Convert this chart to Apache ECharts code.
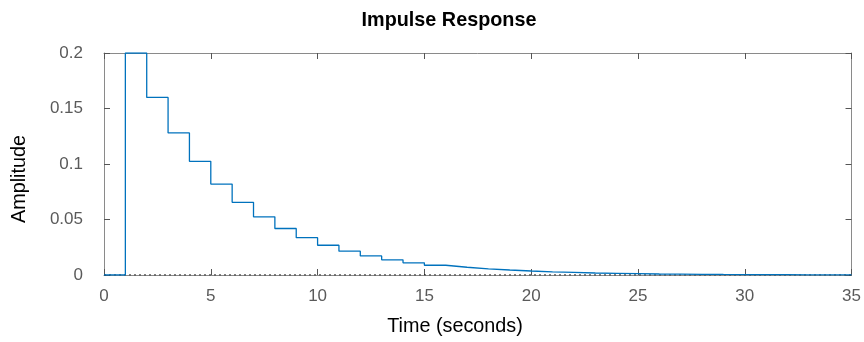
<!DOCTYPE html>
<html>
<head>
<meta charset="utf-8">
<script src="https://cdn.jsdelivr.net/npm/echarts@6/dist/echarts.min.js"></script>
<style>
html,body{margin:0;padding:0;background:#fff;}
#chart{width:864px;height:342px;}
</style>
</head>
<body>
<div id="chart"></div>
<script>
// Data
var times = [0,1,2,3,4,5,6,7,8,9,10,11,12,13,14,15,16,17,18,19,20,21,22,23,24,25,26,27,28,29,30,31,32,33,34,35];
var amplitude = [0,0.2,0.16,0.128,0.1024,0.0819,0.0655,0.0524,0.0419,0.0336,0.0268,0.0215,0.0172,0.0137,0.0110,0.0088,0.0070,0.0056,0.0045,0.0036,0.0029,0.0023,0.0018,0.0015,0.0012,0.0009,0.00076,0.0006,0.00048,0.00039,0.00031,0.00025,0.0002,0.00016,0.00013,0.0001];
var xTicks = [0,5,10,15,20,25,30,35];
var yTicks = [0,0.05,0.1,0.15,0.2];
var titleText = 'Impulse Response';
var xLabelText = 'Time (seconds)';
var yLabelText = 'Amplitude';

var FONT = '"Liberation Sans", Arial, Helvetica, sans-serif';
var lineColor = '#8a8a8a';
var tickColor = '#555';
var labelColor = '#5a5a5a';

var stepData = times.map(function(t, i){ return [t, amplitude[i]]; });
var zeroData = [[xTicks[0], 0], [xTicks[xTicks.length-1], 0]];

var chart = echarts.init(document.getElementById('chart'), null, {renderer:'canvas'});
function axisX(pos, showLabel){
  return {
    type:'value', position:pos, min:xTicks[0], max:xTicks[xTicks.length-1], interval:5,
    axisLine:{show:true, onZero:false, lineStyle:{color:lineColor, width:1}},
    axisTick:{show:true, inside:true, length:6, lineStyle:{color:tickColor}},
    axisLabel:{show:showLabel, color:labelColor, fontSize:17, fontFamily:FONT, margin:13},
    splitLine:{show:false}
  };
}
function axisY(pos, showLabel){
  return {
    type:'value', position:pos, min:yTicks[0], max:yTicks[yTicks.length-1], interval:0.05,
    axisLine:{show:true, onZero:false, lineStyle:{color:lineColor, width:1}},
    axisTick:{show:true, inside:true, length:6, lineStyle:{color:tickColor}},
    axisLabel:{show:showLabel, color:labelColor, fontSize:17, fontFamily:FONT, margin:21},
    splitLine:{show:false}
  };
}
chart.setOption({
  animation:false,
  grid:{left:104, right:8, top:53, bottom:67, containLabel:false},
  xAxis:[axisX('bottom', true), axisX('top', false)],
  yAxis:[axisY('left', true), axisY('right', false)],
  series:[
    {type:'line', data:zeroData, xAxisIndex:0, yAxisIndex:0, symbol:'none',
     lineStyle:{color:'#000', width:1, type:[2,3]}, z:1, silent:true},
    {type:'line', data:stepData, xAxisIndex:0, yAxisIndex:0, step:'end', symbol:'none',
     lineStyle:{color:'#0072BD', width:1.3}, z:2, silent:true}
  ],
  graphic:[
    {type:'text', x:449, y:21, style:{text:titleText, font:'bold 19.8px '+FONT, fill:'#000', textAlign:'center', textVerticalAlign:'middle'}},
    {type:'text', x:455, y:327, style:{text:xLabelText, font:'19.8px '+FONT, fill:'#000', textAlign:'center', textVerticalAlign:'middle'}},
    {type:'text', x:20, y:179, rotation:Math.PI/2, style:{text:yLabelText, font:'19.8px '+FONT, fill:'#000', textAlign:'center', textVerticalAlign:'middle'}}
  ]
});
</script>
</body>
</html>
